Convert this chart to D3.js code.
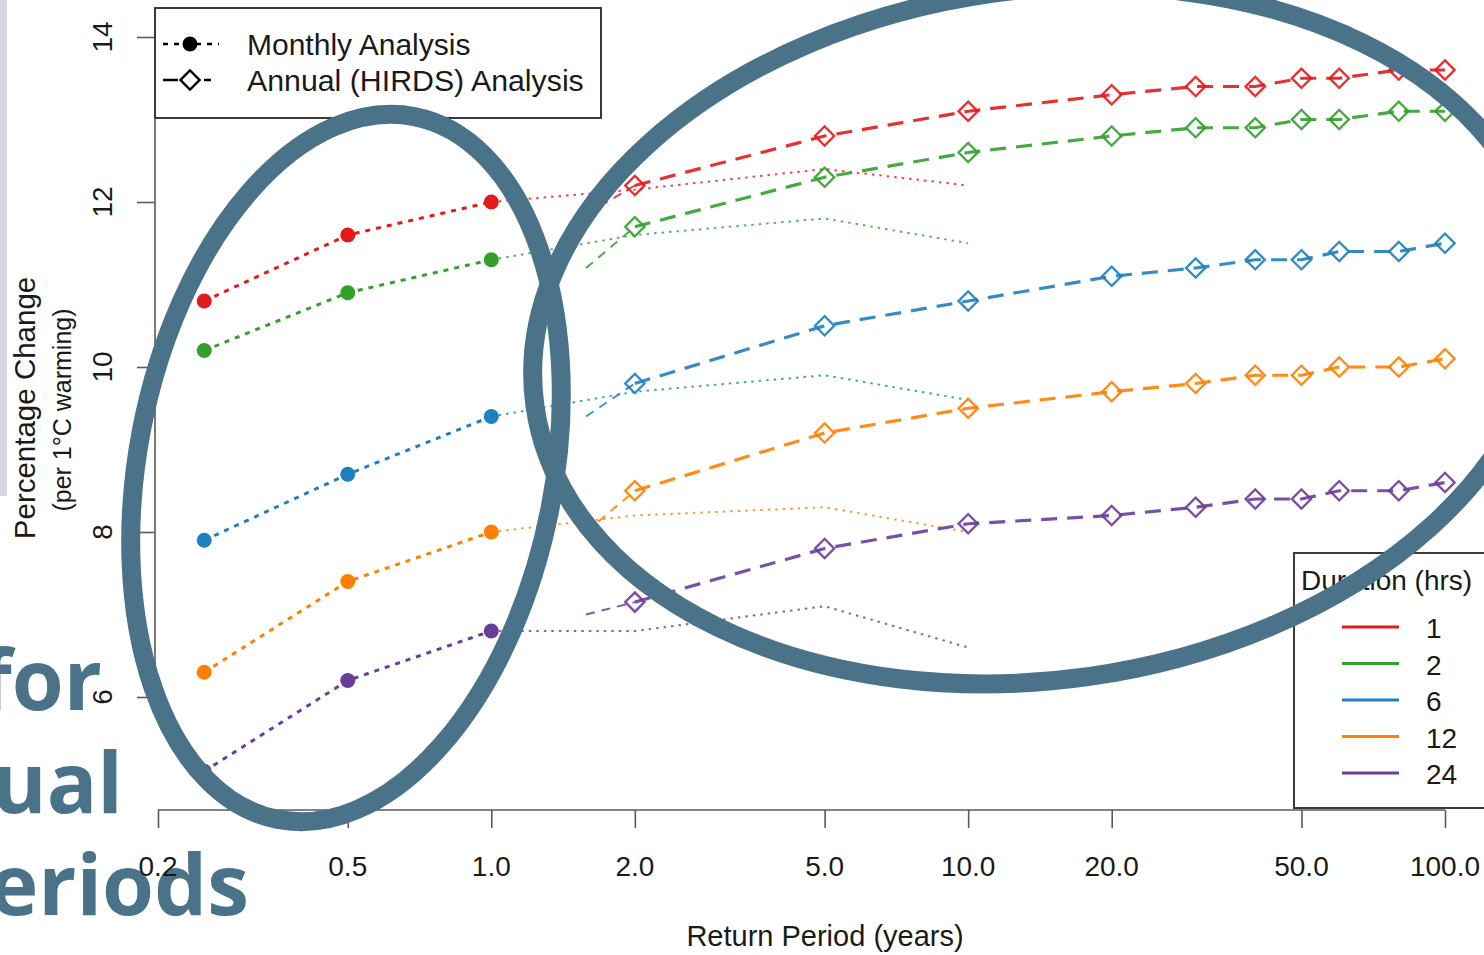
<!DOCTYPE html>
<html>
<head>
<meta charset="utf-8">
<script src="https://cdn.jsdelivr.net/npm/d3@7"></script>
<style>
  body { margin: 0; background: #fff; overflow: hidden; }
  svg { display: block; }
  text { font-family: "Liberation Sans", Arial, sans-serif; fill: #1a1a1a; }
</style>
</head>
<body>
<div id="chart"></div>
<script>
// Durations (hrs) and their colours
var durations = ["1", "2", "6", "12", "24"];
var palette = ["#e31a1c", "#33a02c", "#1f7fbf", "#ff7f00", "#6a3d9a"];

// Monthly analysis (return periods under a year)
var monthlyPeriods = [0.25, 0.5, 1.0];
var monthlyValues = [
    [10.8, 11.6, 12.0],
    [10.2, 10.9, 11.3],
    [7.9, 8.7, 9.4],
    [6.3, 7.4, 8.0],
    [5.1, 6.2, 6.8]
];

// Monthly analysis carried on past one year (thin dotted)
var monthlyTailPeriods = [1.0, 2.0, 5.0, 10.0];
var monthlyTailValues = [
    [12.0, 12.15, 12.4, 12.2],
    [11.3, 11.6, 11.8, 11.5],
    [9.4, 9.7, 9.9, 9.6],
    [8.0, 8.2, 8.3, 8.0],
    [6.8, 6.8, 7.1, 6.6]
];

// Annual (HIRDS) analysis
var annualPeriods = [1.58, 2, 5, 10, 20, 30, 40, 50, 60, 80, 100];
var annualValues = [
    [11.85, 12.2, 12.8, 13.1, 13.3, 13.4, 13.4, 13.5, 13.5, 13.6, 13.6],
    [11.2, 11.7, 12.3, 12.6, 12.8, 12.9, 12.9, 13.0, 13.0, 13.1, 13.1],
    [9.4, 9.8, 10.5, 10.8, 11.1, 11.2, 11.3, 11.3, 11.4, 11.4, 11.5],
    [8.0, 8.5, 9.2, 9.5, 9.7, 9.8, 9.9, 9.9, 10.0, 10.0, 10.1],
    [7.0, 7.15, 7.8, 8.1, 8.2, 8.3, 8.4, 8.4, 8.5, 8.5, 8.6]
];

// Axis ticks
var xTicks = [0.2, 0.5, 1, 2, 5, 10, 20, 50, 100];
var xTickLabels = ["0.2", "0.5", "1.0", "2.0", "5.0", "10.0", "20.0", "50.0", "100.0"];
var yTicks = [6, 8, 10, 12, 14];

var width = 1484, height = 955;
var slate = "#4a7389";

var svg = d3.select("#chart").append("svg")
    .attr("width", width)
    .attr("height", height);

svg.append("rect").attr("width", width).attr("height", height).attr("fill", "#fff");

// Slide remnants behind the chart
svg.append("rect")
    .attr("x", 0).attr("y", 0)
    .attr("width", 7).attr("height", 496)
    .attr("fill", "#d6d6e2");

var slideText = svg.append("g")
    .attr("font-weight", 700)
    .attr("font-size", "84px")
    .attr("text-anchor", "end");
[["for", 102, 710], ["ual", 123, 813], ["eriods", 249, 915]].forEach(function(t) {
    slideText.append("text")
        .attr("x", t[1]).attr("y", t[2])
        .style("font-family", "'Open Sans', sans-serif")
        .style("fill", slate)
        .text(t[0]);
});

// Scales
var xScale = d3.scaleLog().domain([0.2, 100]).range([158, 1445]);
var yScale = d3.scaleLinear().domain([6, 14]).range([697, 37]);

var axisColor = "#5a5a5a";
var chart = svg.append("g");

// Y axis (R style: line only between first and last tick)
var yAxis = chart.append("g").attr("transform", "translate(155,0)")
    .call(d3.axisLeft(yScale).tickValues(yTicks).tickSize(18).tickPadding(0).tickFormat(""));
yAxis.select(".domain").attr("d", "M0," + yScale(6) + "V" + yScale(14))
    .attr("stroke", axisColor).attr("stroke-width", 1.6);
yAxis.selectAll(".tick line").attr("stroke", axisColor).attr("stroke-width", 1.6);

chart.selectAll(".ylab")
    .data(yTicks)
    .enter()
    .append("text")
    .attr("class", "ylab")
    .attr("transform", function(d) { return "translate(112," + yScale(d) + ") rotate(-90)"; })
    .attr("text-anchor", "middle")
    .attr("font-size", "28px")
    .text(function(d) { return d; });

// X axis
var xAxis = chart.append("g").attr("transform", "translate(0,810)")
    .call(d3.axisBottom(xScale).tickValues(xTicks).tickSize(18).tickFormat(""));
xAxis.select(".domain").attr("d", "M" + xScale(0.2) + ",0H" + xScale(100))
    .attr("stroke", axisColor).attr("stroke-width", 1.6);
xAxis.selectAll(".tick line").attr("stroke", axisColor).attr("stroke-width", 1.6);

chart.selectAll(".xlab")
    .data(xTicks)
    .enter()
    .append("text")
    .attr("class", "xlab")
    .attr("x", function(d) { return xScale(d); })
    .attr("y", 876)
    .attr("text-anchor", "middle")
    .attr("font-size", "28px")
    .text(function(d, i) { return xTickLabels[i]; });

// Axis titles
chart.append("text")
    .attr("transform", "translate(825,946)")
    .attr("text-anchor", "middle")
    .attr("font-size", "29px")
    .text("Return Period (years)");

chart.append("text")
    .attr("transform", "translate(35,408) rotate(-90)")
    .attr("text-anchor", "middle")
    .attr("font-size", "29.5px")
    .text("Percentage Change");

chart.append("text")
    .attr("transform", "translate(71,410) rotate(-90)")
    .attr("text-anchor", "middle")
    .attr("font-size", "25px")
    .text("(per 1\u00B0C warming)");

// Line generators
function lineFor(periods) {
    return d3.line()
        .x(function(d, i) { return xScale(periods[i]); })
        .y(function(d) { return yScale(d); });
}
var monthlyLine = lineFor(monthlyPeriods);
var tailLine = lineFor(monthlyTailPeriods);
var leadPeriods = annualPeriods.slice(0, 2);
var annPeriods = annualPeriods.slice(1);

var diamond = d3.symbol().type(d3.symbolSquare).size(185);

durations.forEach(function(dur, k) {
    var col = palette[k];
    var g = chart.append("g");

    // thin dotted continuation of monthly analysis
    g.append("path")
        .attr("d", tailLine(monthlyTailValues[k]))
        .attr("fill", "none")
        .attr("stroke", col)
        .attr("stroke-width", 2)
        .attr("stroke-dasharray", "2.5,5")
        .attr("opacity", 0.8);

    // thin dashed lead-in of annual analysis (1.58 -> 2 yrs)
    g.append("path")
        .attr("d", lineFor(leadPeriods)(annualValues[k].slice(0, 2)))
        .attr("fill", "none")
        .attr("stroke", col)
        .attr("stroke-width", 2)
        .attr("stroke-dasharray", "9,7")
        .attr("opacity", 0.85);

    // main annual dashed line
    var annVals = annualValues[k].slice(1);
    g.append("path")
        .attr("d", lineFor(annPeriods)(annVals))
        .attr("fill", "none")
        .attr("stroke", col)
        .attr("stroke-width", 3.2)
        .attr("stroke-dasharray", "16,10")
        .attr("opacity", 0.9);

    g.selectAll(".dia")
        .data(annVals)
        .enter()
        .append("path")
        .attr("class", "dia")
        .attr("d", diamond)
        .attr("transform", function(d, i) {
            return "translate(" + xScale(annPeriods[i]) + "," + yScale(d) + ") rotate(45)";
        })
        .attr("fill", "none")
        .attr("stroke", col)
        .attr("stroke-width", 2.4)
        .attr("opacity", 0.9);

    // monthly line and points
    g.append("path")
        .attr("d", monthlyLine(monthlyValues[k]))
        .attr("fill", "none")
        .attr("stroke", col)
        .attr("stroke-width", 3)
        .attr("stroke-dasharray", "5,6");

    g.selectAll(".pt")
        .data(monthlyValues[k])
        .enter()
        .append("circle")
        .attr("class", "pt")
        .attr("cx", function(d, i) { return xScale(monthlyPeriods[i]); })
        .attr("cy", function(d) { return yScale(d); })
        .attr("r", 7.5)
        .attr("fill", col);
});

// Analysis legend (top left)
var leg1 = chart.append("g");
leg1.append("rect")
    .attr("x", 155).attr("y", 8)
    .attr("width", 446).attr("height", 110)
    .attr("fill", "#fff")
    .attr("stroke", "#3a3a3a")
    .attr("stroke-width", 2);
leg1.append("line")
    .attr("x1", 163).attr("x2", 219).attr("y1", 44).attr("y2", 44)
    .attr("stroke", "#000").attr("stroke-width", 2.5).attr("stroke-dasharray", "5,6");
leg1.append("circle").attr("cx", 190).attr("cy", 44).attr("r", 7.5).attr("fill", "#000");
leg1.append("line")
    .attr("x1", 163).attr("x2", 219).attr("y1", 80).attr("y2", 80)
    .attr("stroke", "#000").attr("stroke-width", 2.5).attr("stroke-dasharray", "15,26,7");
leg1.append("path")
    .attr("d", diamond)
    .attr("transform", "translate(190,80) rotate(45)")
    .attr("fill", "#fff").attr("stroke", "#000").attr("stroke-width", 2.4);
leg1.append("text").attr("x", 247).attr("y", 55).attr("font-size", "30px").text("Monthly Analysis");
leg1.append("text").attr("x", 247).attr("y", 91).attr("font-size", "30.3px").text("Annual (HIRDS) Analysis");

// Duration legend (bottom right)
var leg2 = chart.append("g");
leg2.append("rect")
    .attr("x", 1294).attr("y", 553)
    .attr("width", 220).attr("height", 255)
    .attr("fill", "#fff")
    .attr("stroke", "#3a3a3a")
    .attr("stroke-width", 2);
leg2.append("text").attr("x", 1301).attr("y", 590).attr("font-size", "28px").text("Duration (hrs)");
var legY = d3.scaleLinear().domain([0, 4]).range([627, 773]);
leg2.selectAll(".lline")
    .data(durations)
    .enter()
    .append("line")
    .attr("x1", 1342).attr("x2", 1399)
    .attr("y1", function(d, i) { return legY(i); })
    .attr("y2", function(d, i) { return legY(i); })
    .attr("stroke", function(d, i) { return palette[i]; })
    .attr("stroke-width", 3);
leg2.selectAll(".ltext")
    .data(durations)
    .enter()
    .append("text")
    .attr("x", 1426)
    .attr("y", function(d, i) { return legY(i) + 11; })
    .attr("font-size", "28px")
    .text(function(d) { return d; });

// Slide highlight ellipses on top
svg.append("ellipse")
    .attr("transform", "translate(346,468) rotate(11)")
    .attr("rx", 208).attr("ry", 358)
    .attr("fill", "none").attr("stroke", slate).attr("stroke-width", 19);

svg.append("ellipse")
    .attr("transform", "translate(1040,335) rotate(-8)")
    .attr("rx", 510).attr("ry", 345)
    .attr("fill", "none").attr("stroke", slate).attr("stroke-width", 19);
</script>
</body>
</html>
